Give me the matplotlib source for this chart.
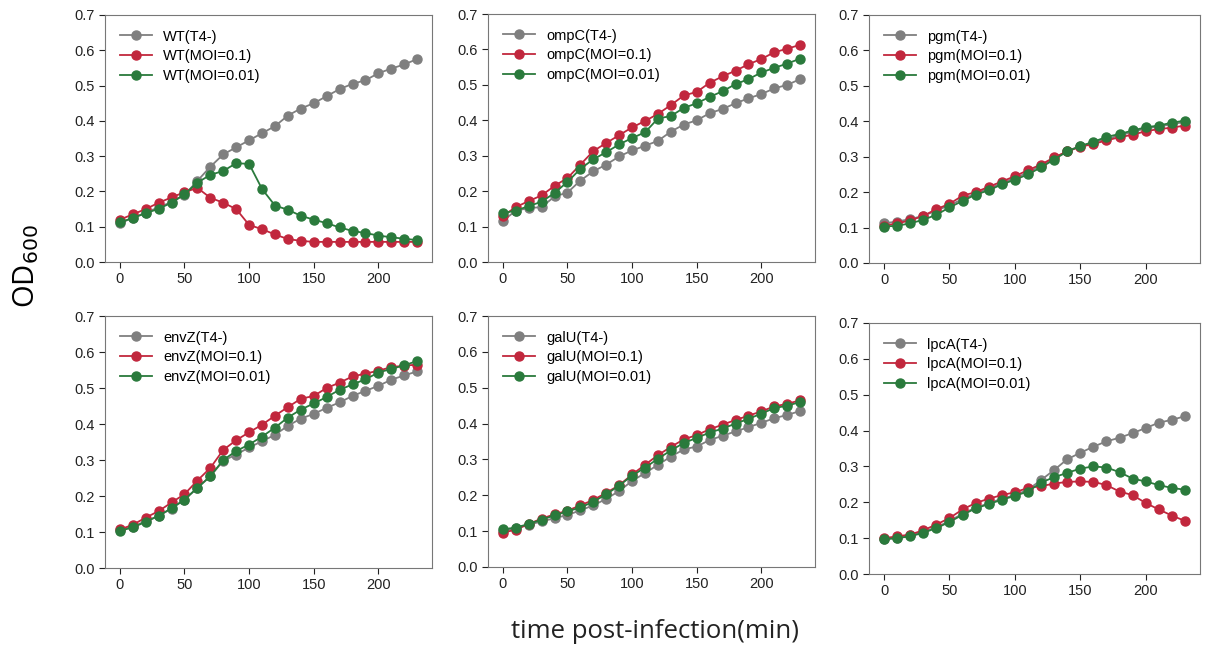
import matplotlib
matplotlib.use('Agg')
import matplotlib.pyplot as plt

# time points (min)
time = list(range(0, 240, 10))

strains = ['WT', 'ompC', 'pgm', 'envZ', 'galU', 'lpcA']
conditions = ['T4-', 'MOI=0.1', 'MOI=0.01']

# OD600 readings, one list per strain/condition
wt_t4 = [0.11, 0.125, 0.14, 0.155, 0.17, 0.19, 0.23, 0.27, 0.305, 0.325, 0.345, 0.365,
         0.385, 0.415, 0.435, 0.45, 0.47, 0.49, 0.505, 0.515, 0.535, 0.548, 0.56, 0.575]
wt_m1 = [0.12, 0.135, 0.15, 0.168, 0.183, 0.198, 0.21, 0.182, 0.168, 0.15, 0.105, 0.093,
         0.078, 0.065, 0.06, 0.057, 0.057, 0.057, 0.057, 0.057, 0.057, 0.057, 0.057, 0.057]
wt_m01 = [0.112, 0.125, 0.138, 0.151, 0.168, 0.192, 0.225, 0.247, 0.258, 0.28, 0.278, 0.207,
          0.16, 0.148, 0.131, 0.12, 0.11, 0.098, 0.088, 0.082, 0.075, 0.07, 0.066, 0.062]

ompc_t4 = [0.116, 0.145, 0.152, 0.155, 0.185, 0.196, 0.23, 0.256, 0.275, 0.298, 0.315, 0.328,
           0.342, 0.368, 0.388, 0.4, 0.42, 0.432, 0.448, 0.462, 0.474, 0.49, 0.5, 0.516]
ompc_m1 = [0.13, 0.155, 0.172, 0.188, 0.215, 0.237, 0.275, 0.313, 0.336, 0.358, 0.38, 0.398,
           0.418, 0.443, 0.47, 0.48, 0.506, 0.524, 0.54, 0.558, 0.573, 0.592, 0.602, 0.613]
ompc_m01 = [0.138, 0.145, 0.158, 0.17, 0.195, 0.226, 0.263, 0.29, 0.31, 0.332, 0.35, 0.366,
            0.405, 0.412, 0.435, 0.448, 0.466, 0.482, 0.502, 0.516, 0.535, 0.548, 0.56, 0.574]

pgm_t4 = [0.112, 0.117, 0.124, 0.133, 0.148, 0.163, 0.18, 0.196, 0.21, 0.225, 0.24, 0.255,
          0.275, 0.295, 0.316, 0.33, 0.34, 0.35, 0.36, 0.37, 0.38, 0.385, 0.392, 0.398]
pgm_m1 = [0.105, 0.112, 0.12, 0.133, 0.152, 0.167, 0.19, 0.2, 0.215, 0.23, 0.245, 0.262,
          0.278, 0.298, 0.315, 0.328, 0.336, 0.346, 0.355, 0.362, 0.372, 0.378, 0.382, 0.388]
pgm_m01 = [0.103, 0.105, 0.112, 0.122, 0.136, 0.157, 0.175, 0.193, 0.205, 0.222, 0.235, 0.25,
           0.27, 0.292, 0.315, 0.33, 0.342, 0.356, 0.364, 0.374, 0.383, 0.388, 0.396, 0.402]

envz_t4 = [0.105, 0.115, 0.13, 0.145, 0.165, 0.19, 0.222, 0.255, 0.298, 0.315, 0.335, 0.352,
           0.37, 0.395, 0.415, 0.428, 0.445, 0.46, 0.478, 0.492, 0.506, 0.523, 0.535, 0.546]
envz_m1 = [0.107, 0.12, 0.14, 0.158, 0.182, 0.205, 0.243, 0.278, 0.328, 0.355, 0.377, 0.398,
           0.423, 0.447, 0.47, 0.478, 0.5, 0.515, 0.532, 0.54, 0.548, 0.558, 0.562, 0.565]
envz_m01 = [0.103, 0.113, 0.128, 0.145, 0.166, 0.19, 0.223, 0.255, 0.3, 0.325, 0.343, 0.365,
            0.39, 0.418, 0.44, 0.457, 0.475, 0.495, 0.51, 0.524, 0.543, 0.553, 0.563, 0.575]

galu_t4 = [0.1, 0.108, 0.118, 0.127, 0.136, 0.145, 0.158, 0.172, 0.19, 0.212, 0.24, 0.262,
           0.285, 0.308, 0.328, 0.336, 0.354, 0.366, 0.378, 0.39, 0.402, 0.415, 0.424, 0.435]
galu_m1 = [0.096, 0.104, 0.12, 0.135, 0.147, 0.157, 0.172, 0.187, 0.207, 0.228, 0.258, 0.285,
           0.312, 0.335, 0.356, 0.368, 0.384, 0.397, 0.41, 0.422, 0.434, 0.448, 0.455, 0.465]
galu_m01 = [0.105, 0.11, 0.12, 0.132, 0.144, 0.155, 0.166, 0.182, 0.203, 0.227, 0.255, 0.277,
            0.302, 0.325, 0.346, 0.36, 0.375, 0.386, 0.4, 0.413, 0.428, 0.443, 0.45, 0.46]

lpca_t4 = [0.098, 0.1, 0.108, 0.118, 0.13, 0.148, 0.168, 0.185, 0.197, 0.21, 0.22, 0.235,
           0.262, 0.29, 0.32, 0.338, 0.355, 0.37, 0.38, 0.393, 0.407, 0.422, 0.43, 0.44]
lpca_m1 = [0.1, 0.105, 0.11, 0.122, 0.138, 0.156, 0.18, 0.198, 0.21, 0.22, 0.228, 0.24,
           0.245, 0.252, 0.257, 0.258, 0.257, 0.248, 0.23, 0.22, 0.198, 0.18, 0.163, 0.148]
lpca_m01 = [0.097, 0.1, 0.105, 0.115, 0.128, 0.145, 0.165, 0.183, 0.195, 0.207, 0.218, 0.23,
            0.255, 0.27, 0.282, 0.294, 0.3, 0.297, 0.284, 0.266, 0.258, 0.248, 0.24, 0.235]

data = {
    'WT': [wt_t4, wt_m1, wt_m01],
    'ompC': [ompc_t4, ompc_m1, ompc_m01],
    'pgm': [pgm_t4, pgm_m1, pgm_m01],
    'envZ': [envz_t4, envz_m1, envz_m01],
    'galU': [galu_t4, galu_m1, galu_m01],
    'lpcA': [lpca_t4, lpca_m1, lpca_m01],
}

colors = ['#7f7f7f', '#c1273d', '#2a7a3c']

plt.rcParams['font.family'] = ['Liberation Sans', 'DejaVu Sans']

W, H = 1210, 653
fig = plt.figure(figsize=(W / 100, H / 100), dpi=100)

# axes boxes in pixels: left, top, right, bottom
boxes = [(105, 15, 432, 262), (488, 14, 815, 262), (869, 15, 1200, 263),
         (105, 316, 432, 568), (488, 316, 815, 567), (869, 323, 1200, 574)]

for name, (l, t, r, b) in zip(strains, boxes):
    ax = fig.add_axes([l / W, 1 - b / H, (r - l) / W, (b - t) / H])
    for cond, series, c in zip(conditions, data[name], colors):
        ax.plot(time, series, color=c, marker='o', markersize=6.5, linewidth=1.3,
                label=f'{name}({cond})')
    ax.set_ylim(0, 0.7)
    ax.set_xlim(-11.5, 241.5)
    ax.set_xticks([0, 50, 100, 150, 200])
    ax.set_yticks([0, 0.1, 0.2, 0.3, 0.4, 0.5, 0.6, 0.7])
    ax.tick_params(labelsize=10.5, colors='#222222', length=4)
    for s in ax.spines.values():
        s.set_color('#777777')
    ax.legend(loc='upper left', frameon=False, fontsize=10.5, handlelength=2.2,
              labelspacing=0.4, borderaxespad=0.6)

fig.text(26 / W, 1 - 266 / H, 'OD$_{600}$', rotation=90, ha='center', va='center',
         fontsize=21, family='Open Sans')
fig.text(655 / W, 1 - 632 / H, 'time post-infection(min)', ha='center', va='center',
         fontsize=18.5, family='Open Sans', color='#222222')

plt.savefig('out.png', dpi=100)
